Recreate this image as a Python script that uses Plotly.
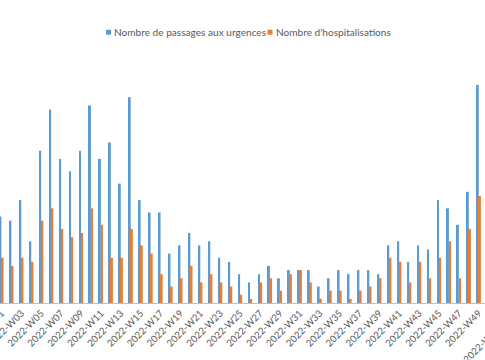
import plotly.graph_objects as go

weeks = [f"2022-W{i:02d}" for i in range(1, 50)]

passages = [21, 20, 25, 15, 37, 47, 35, 32, 37, 48,
            35, 39, 29, 50, 25, 22, 22, 12, 14, 17,
            14, 15, 11, 10, 7, 5, 7, 9, 6, 8,
            8, 8, 4, 6, 8, 7, 8, 8, 7, 14,
            15, 10, 14, 13, 25, 23, 19, 27, 53]

hospitalisations = [11, 9, 11, 10, 20, 23, 18, 16, 17, 23,
                    19, 11, 11, 18, 14, 12, 7, 4, 6, 9,
                    5, 7, 5, 4, 2, 1, 5, 6, 3, 7,
                    8, 5, 1, 3, 3, 1, 3, 4, 6, 11,
                    10, 5, 10, 6, 11, 15, 6, 18, 26]

series_names = ["Nombre de passages aux urgences", "Nombre d'hospitalisations"]
series_colors = ["#5B9BD5", "#ED7D31"]

tick_labels = weeks[::2]
next_label = "2022-W51"   # partially visible label at the right edge

W, H = 485, 360
ML, MR, MT, MB = 0, 0, 56, 57
PH = H - MT - MB
X0, X1 = -0.151, 48.62

fig = go.Figure()
for vals, name, col in zip([passages, hospitalisations], series_names, series_colors):
    fig.add_trace(go.Bar(x=weeks, y=vals, name=name,
                         marker=dict(color=col, line=dict(width=0))))

def px_x(px):
    return px / W

def px_y(py):
    return (H - MB - py) / PH

# Custom legend (small squares + text)
legend_items = [(106, 114), (267.5, 275.5)]
for (sq_x, tx_x), name, col in zip(legend_items, series_names, series_colors):
    fig.add_shape(type="rect", xref="paper", yref="paper",
                  x0=px_x(sq_x), x1=px_x(sq_x + 5), y0=px_y(34.7), y1=px_y(29.7),
                  fillcolor=col, line=dict(width=0))
    fig.add_annotation(text=name, xref="paper", yref="paper",
                       x=px_x(tx_x - 2), y=px_y(32), xanchor="left", yanchor="middle",
                       showarrow=False, font=dict(size=10.1, color="#595959",
                                                  family="Lato, sans-serif"))

# Label of the next tick (category index 50), cut by the right edge
idx = 50
fig.add_annotation(text=next_label, xref="paper", yref="paper",
                   x=(idx - X0) / (X1 - X0) + px_x(6), y=px_y(321),
                   xanchor="right", yanchor="top", textangle=-45, showarrow=False,
                   font=dict(size=9.6, color="#595959", family="Lato, sans-serif"))

fig.update_layout(
    width=W, height=H,
    margin=dict(l=ML, r=MR, t=MT, b=MB, autoexpand=False),
    paper_bgcolor="white", plot_bgcolor="white",
    barmode="group", bargap=0.57, bargroupgap=0.08,
    font=dict(family="Lato, sans-serif", color="#595959", size=10),
    showlegend=False,
)
fig.update_xaxes(
    type="category", range=[X0, X1], automargin=False,
    tickmode="array", tickvals=tick_labels, ticktext=tick_labels,
    tickangle=-45, tickfont=dict(size=9.6, color="#595959", family="Lato, sans-serif"),
    showline=True, linecolor="#BFBFBF", linewidth=1,
    showgrid=False, ticks="", zeroline=False,
)
fig.update_yaxes(range=[0, 60], visible=False, showgrid=False, zeroline=False,
                 automargin=False)

fig.write_html("out.html", config={"displayModeBar": False},
               post_script="document.body.style.margin='0';document.body.style.overflow='hidden';")
